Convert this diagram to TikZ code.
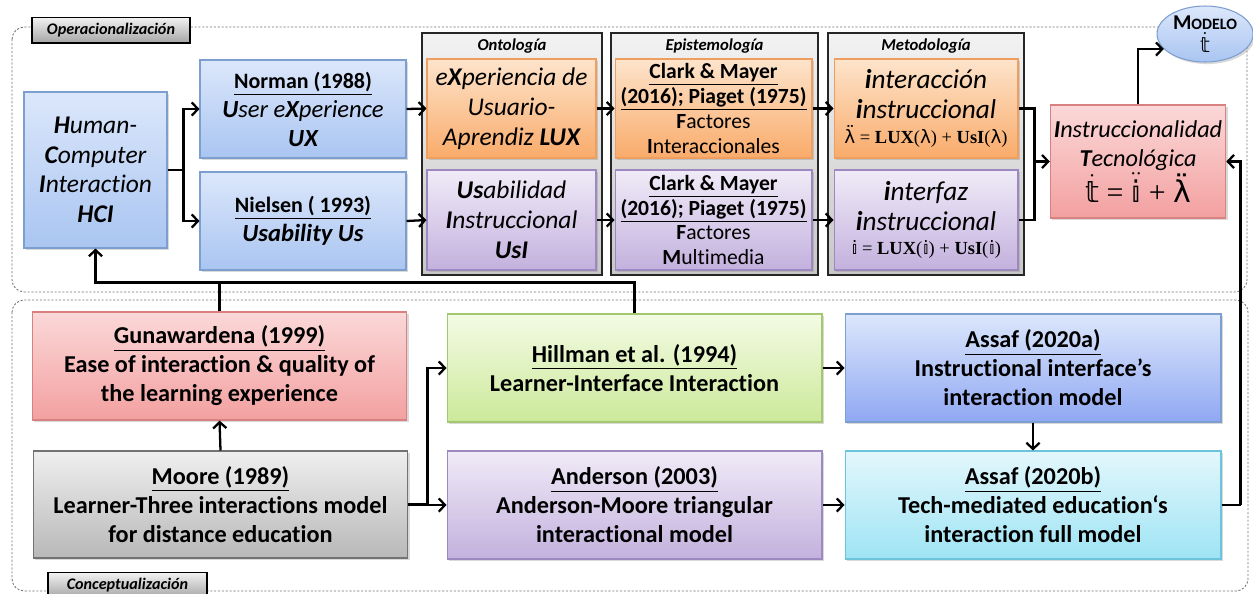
\documentclass[tikz,border=0pt]{standalone}
\usepackage{fontspec}
\setmainfont{Carlito}[RawFeature={-liga;-clig;-calt;-dlig}]
\newfontfamily\formfont{Liberation Serif}
\newfontfamily\dsfont{DejaVu Sans}
\usetikzlibrary{arrows.meta,shadows,shapes.geometric}
\definecolor{bluetop}{HTML}{DCE7FB}\definecolor{bluebot}{HTML}{A9C5F1}\definecolor{blueline}{HTML}{7D9FD0}
\definecolor{orgtop}{HTML}{FDE4CC}\definecolor{orgbot}{HTML}{F9AB6A}\definecolor{orgline}{HTML}{EE9E5E}
\definecolor{purtop}{HTML}{F0EBF7}\definecolor{purbot}{HTML}{C3B1DE}\definecolor{purline}{HTML}{9D88C0}
\definecolor{redtop}{HTML}{FBD8D8}\definecolor{redbot}{HTML}{F3A0A0}\definecolor{redline}{HTML}{D98080}
\definecolor{grntop}{HTML}{F4FBE4}\definecolor{grnbot}{HTML}{CBE99A}\definecolor{grnline}{HTML}{A4C870}
\definecolor{cyantop}{HTML}{E3F7FC}\definecolor{cyanbot}{HTML}{9EE4F4}\definecolor{cyanline}{HTML}{6CC4DC}
\definecolor{graytop}{HTML}{EFEFEF}\definecolor{graybot}{HTML}{B8B8B8}
\newcommand{\symlam}{{\dsfont λ}}
\newcommand{\symlamdd}{{\dsfont λ̈}}
\newcommand{\symii}{{\dsfont 𝕚}}
\newcommand{\symiidd}{\ensuremath{\ddot{\mbox{\dsfont 𝕚}}}}
\newcommand{\symtt}{\ensuremath{\dot{\mbox{\dsfont 𝕥}}}}
\newcommand{\headline}[1]{{\bfseries\fontsize{12.5}{16.5}\selectfont\underline{#1}}}

\begin{document}
\begin{tikzpicture}[x=0.02cm,y=-0.02cm,>={Straight Barb[length=3.5pt,width=7.5pt]},
  box/.style={draw,rectangle,align=center,inner sep=2pt,line width=0.6pt,
    drop shadow={opacity=0.3,shadow xshift=1.2pt,shadow yshift=-1.2pt}},
  bluebox/.style={box,top color=bluetop,bottom color=bluebot,draw=blueline},
  orgbox/.style={box,top color=orgtop,bottom color=orgbot,draw=orgline},
  purbox/.style={box,top color=purtop,bottom color=purbot,draw=purline},
  redbox/.style={box,top color=redtop,bottom color=redbot,draw=redline},
  grnbox/.style={box,top color=grntop,bottom color=grnbot,draw=grnline},
  cyanbox/.style={box,top color=cyantop,bottom color=cyanbot,draw=cyanline},
  graybox/.style={box,top color=graytop,bottom color=graybot,draw=gray!90!black},
  holder/.style={draw=black!85,line width=1pt,rectangle,top color=black!5,bottom color=black!22,
    minimum height=4.84cm},
  tag/.style={draw=black,line width=0.8pt,rectangle,top color=black!5,bottom color=black!35,
    font=\bfseries\itshape\fontsize{9.2}{11}\selectfont},
  coltitle/.style={font=\bfseries\itshape\fontsize{9.5}{11}\selectfont,anchor=north,inner sep=3.5pt},
  region/.style={draw=black!55,dash pattern=on 1.2pt off 1pt,line width=0.5pt,rounded corners=7pt},
  topfont/.style={font=\fontsize{14}{16.5}\selectfont},
  bigfont/.style={font=\fontsize{15.5}{17}\selectfont},
  botfont/.style={font=\bfseries\fontsize{13.8}{16.5}\selectfont},
  conn/.style={line width=1.3pt}]
      \useasboundingbox (0,0) rectangle (1253,593);
      \draw[region] (12,27) rectangle (1247,292);
      \draw[region] (12,300) rectangle (1248,591);
      \node at (111,30)[tag,minimum width=3.16cm,minimum height=0.48cm] (optag){Operacionalización};
      \node at (127.5,585)[tag,minimum width=3.18cm,minimum height=0.44cm] (cotag){Conceptualización};
      \node at (512,154)[holder,minimum width=3.6cm,label={[coltitle]north:Ontología}] (onto){};
      \node at (714.5,154)[holder,minimum width=4.14cm,label={[coltitle]north:Epistemología}] (epis){};
      \node at (926,154)[holder,minimum width=3.92cm,label={[coltitle]north:Metodología}] (meto){};
      \node at (95.5,170)[bluebox,font=\fontsize{14.5}{16.8}\selectfont,minimum width=2.86cm,minimum height=3.12cm] (hci){\itshape\textbf{H}uman-\\\itshape\textbf{C}omputer\\\itshape\textbf{I}nteraction\\\itshape\textbf{HCI}};
      \node at (303,109)[bluebox,topfont,minimum width=4.12cm,minimum height=1.96cm] (norman){\headline{Norman (1988)}\\\itshape\textbf{U}ser e\textbf{X}perience\\\itshape\textbf{UX}};
      \node at (303,221)[bluebox,topfont,minimum width=4.12cm,minimum height=1.96cm] (nielsen){\headline{Nielsen ( 1993)}\\\itshape\textbf{Usability Us}};
      \node at (511.5,108.5)[orgbox,font=\fontsize{14.5}{17}\selectfont,minimum width=3.38cm,minimum height=1.98cm] (lux){\itshape e\textbf{X}periencia de\\\itshape Usuario-\\\itshape Aprendiz \textbf{LUX}};
      \node at (511.5,220)[purbox,font=\fontsize{14.5}{17}\selectfont,minimum width=3.38cm,minimum height=2cm] (usi){\itshape\textbf{Us}abilidad\\\itshape\textbf{I}nstruccional\\\itshape\textbf{UsI}};
      \node at (713.5,108.5)[orgbox,font=\fontsize{12.3}{14.2}\selectfont,minimum width=3.94cm,minimum height=1.98cm] (clarka){\textbf{\underline{Clark \& Mayer}}\\\textbf{\underline{(2016); Piaget (1975)}}\\\textbf{F}actores\\\textbf{I}nteraccionales};
      \node at (713.5,220)[purbox,font=\fontsize{12.3}{14.2}\selectfont,minimum width=3.94cm,minimum height=2cm] (clarkb){\textbf{\underline{Clark \& Mayer}}\\\textbf{\underline{(2016); Piaget (1975)}}\\\textbf{F}actores\\\textbf{M}ultimedia};
      \node at (926,108.5)[orgbox,bigfont,minimum width=3.68cm,minimum height=1.98cm] (intera){\itshape\textbf{i}nteracción\\\itshape\textbf{i}nstruccional\\[-3pt]{\formfont\fontsize{10.5}{12}\selectfont\symlamdd\ = \textbf{LUX}(\symlam) + \textbf{UsI}(\symlam)}};
      \node at (926,220)[purbox,bigfont,minimum width=3.68cm,minimum height=2cm] (interf){\itshape\textbf{i}nterfaz\\\itshape\textbf{i}nstruccional\\[-3pt]{\formfont\fontsize{10.5}{12}\selectfont\symii\ = \textbf{LUX}(\symii) + \textbf{UsI}(\symii)}};
      \node at (1138,161.5)[redbox,font=\fontsize{13.8}{16.5}\selectfont,minimum width=3.44cm,minimum height=2.26cm] (instr){\itshape\textbf{I}nstruccionalidad\\\itshape\textbf{T}ecnológica\\{\formfont\fontsize{17}{18}\selectfont\symtt\ = \symiidd\ + \symlamdd}};
      \node at (1205,34)[bluebox,ellipse,minimum width=1.92cm,minimum height=1.12cm,inner sep=0pt,font=\bfseries\fontsize{12}{13}\selectfont] (modelo){M{\fontsize{9}{10}\selectfont ODELO}\\{\mdseries\fontsize{12}{13}\selectfont\symtt}};
      \node at (219.5,366)[redbox,botfont,minimum width=7.5cm,minimum height=2.16cm] (guna){\underline{Gunawardena (1999)}\\Ease of interaction \& quality of\\the learning experience};
      \node at (220.5,504.5)[graybox,botfont,minimum width=7.5cm,minimum height=2.14cm] (moore){\underline{Moore (1989)}\\Learner-Three interactions model\\for distance education};
      \node at (634.5,368)[grnbox,botfont,minimum width=7.5cm,minimum height=2.16cm] (hill){\underline{Hillman et al. (1994)}\\Learner-Interface Interaction};
      \node at (634.5,505)[purbox,botfont,minimum width=7.5cm,minimum height=2.16cm] (ander){\underline{Anderson (2003)}\\Anderson-Moore triangular\\interactional model};
      \node at (1033,368)[bluebox,botfont,minimum width=7.52cm,minimum height=2.16cm,bottom color=bluebot!85!blue] (assafa){\underline{Assaf (2020a)}\\Instructional interface’s\\interaction model};
      \node at (1033,505)[cyanbox,botfont,minimum width=7.52cm,minimum height=2.16cm] (assafb){\underline{Assaf (2020b)}\\Tech-mediated education‘s\\interaction full model};
      \draw[conn] (hci.east) -- ++(16,0) coordinate (hsplit);
      \draw[conn,->] (hsplit) |- (norman.west);
      \draw[conn,->] (hsplit) |- (nielsen.west);
      \draw[conn,->] (norman.east) -- (lux.west);
      \draw[conn,->] (nielsen.east) -- (usi.west);
      \draw[conn,->] (lux.east) -- (clarka.west);
      \draw[conn,->] (usi.east) -- (clarkb.west);
      \draw[conn,->] (clarka.east) -- (intera.west);
      \draw[conn,->] (clarkb.east) -- (interf.west);
      \draw[conn] (intera.east) -- ++(16,0) coordinate (isplit) -- (isplit |- interf.east) -- (interf.east);
      \draw[conn,->] (isplit |- instr.west) -- (instr.west);
      \draw[conn,->] (instr.north) |- (modelo.200);
      \draw[conn] (assafb.east) -- ++(19,0) coordinate (rturn);
      \draw[conn,->] (rturn) |- (instr.east);
      \draw[conn,->] (moore.north) -- (guna.south);
      \draw[conn,->] (hill.north) -- ++(0,-31) coordinate (bus) -| (hci.south);
      \draw[conn] (guna.north) -- (guna.north |- bus);
      \draw[conn] (moore.east) -- ++(19,0) coordinate (msplit);
      \draw[conn,->] (msplit) |- (hill.west);
      \draw[conn,->] (msplit) |- (ander.west);
      \draw[conn,->] (hill.east) -- (assafa.west);
      \draw[conn,->] (ander.east) -- (assafb.west);
      \draw[conn,->] (assafa.south) -- (assafb.north);
\end{tikzpicture}
\end{document}
